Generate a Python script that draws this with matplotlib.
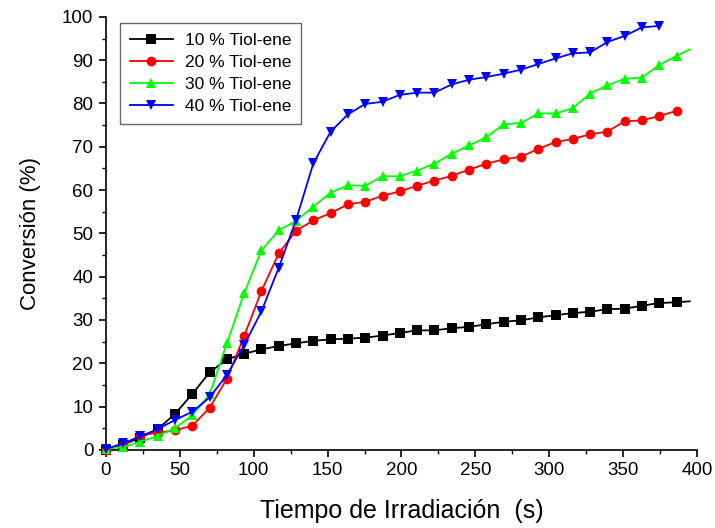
import matplotlib
matplotlib.use("Agg")
import matplotlib.pyplot as plt
from matplotlib.ticker import MultipleLocator

plt.rcParams['font.family'] = ['Liberation Sans', 'DejaVu Sans']

# Irradiation time (s) for each sample
tiempo = [0, 11.7, 23.4, 35.1, 46.8, 58.5, 70.2, 81.9, 93.6, 105.3, 117.0,
          128.7, 140.4, 152.1, 163.8, 175.5, 187.2, 198.9, 210.6, 222.3,
          234.0, 245.7, 257.4, 269.1, 280.8, 292.5, 304.2, 315.9, 327.6,
          339.3, 351.0, 362.7, 374.4, 386.1, 395.0]

# Conversion (%) per thiol-ene content
conv_10 = [0.0, 1.2, 2.8, 4.8, 8.3, 12.9, 17.9, 20.9, 22.2, 23.2, 24.0, 24.6,
           25.2, 25.5, 25.7, 25.9, 26.4, 27.0, 27.6, 27.6, 28.1, 28.4, 29.0,
           29.6, 29.9, 30.6, 31.1, 31.6, 31.9, 32.5, 32.6, 33.3, 33.9, 34.1,
           34.3]
conv_20 = [0.0, 1.2, 3.3, 4.0, 4.5, 5.6, 9.7, 16.4, 26.3, 36.7, 45.4, 50.6,
           53.0, 54.7, 56.7, 57.3, 58.7, 59.7, 61.0, 62.2, 63.3, 64.7, 66.1,
           67.1, 67.7, 69.5, 71.1, 71.8, 72.9, 73.5, 75.9, 76.1, 77.1, 78.3]
conv_30 = [0.3, 0.6, 1.9, 3.2, 5.0, 8.0, 12.8, 24.6, 36.2, 46.1, 50.7, 52.9,
           56.2, 59.4, 61.1, 61.0, 63.2, 63.2, 64.5, 66.1, 68.4, 70.3, 72.2,
           75.2, 75.5, 77.7, 77.7, 78.9, 82.3, 84.2, 85.7, 86.0, 88.9, 91.0,
           92.5]
conv_40 = [0.2, 1.5, 3.1, 4.8, 6.9, 8.8, 12.1, 17.3, 24.2, 32.0, 42.1, 53.1,
           66.2, 73.5, 77.5, 79.9, 80.4, 82.0, 82.5, 82.5, 84.4, 85.5, 86.1,
           86.9, 87.8, 89.1, 90.4, 91.6, 91.8, 94.2, 95.6, 97.6, 97.9]

etiquetas = ['10 % Tiol-ene', '20 % Tiol-ene', '30 % Tiol-ene', '40 % Tiol-ene']

fig = plt.figure(figsize=(7.15, 5.28), dpi=100)
ax = fig.add_axes([0.148, 0.148, 0.827, 0.82])

series = [
    (conv_10, '#000000', 's', 6.5, etiquetas[0]),
    (conv_20, '#FF0000', 'o', 7.0, etiquetas[1]),
    (conv_30, '#00FF00', '^', 7.5, etiquetas[2]),
    (conv_40, '#0000FF', 'v', 7.5, etiquetas[3]),
]
for valores, color, marca, tam, etiqueta in series:
    n = len(valores)
    t = tiempo[:n]
    # markers only on the regular sampling points (not the final line end)
    marcas = list(range(min(n, 34)))
    ax.plot(t, valores, color=color, lw=1.3, marker=marca, markersize=tam,
            markevery=marcas, markeredgewidth=0, label=etiqueta,
            clip_on=False, zorder=3)

ax.set_xlim(0, 400)
ax.set_ylim(0, 100)
ax.xaxis.set_major_locator(MultipleLocator(50))
ax.xaxis.set_minor_locator(MultipleLocator(25))
ax.yaxis.set_major_locator(MultipleLocator(10))
ax.yaxis.set_minor_locator(MultipleLocator(5))

for lado in ('top', 'right'):
    ax.spines[lado].set_visible(False)
for lado in ('left', 'bottom'):
    ax.spines[lado].set_linewidth(1.2)

ax.tick_params(which='major', direction='out', length=5, width=1.2,
               labelsize=13.5, pad=4)
ax.tick_params(which='minor', direction='out', length=3, width=1.0)

ax.set_xlabel('Tiempo de Irradiación  (s)', fontsize=18, labelpad=14)
ax.set_ylabel('Conversión (%)', fontsize=16, labelpad=15)

leg = ax.legend(loc='upper left', bbox_to_anchor=(0.024, 0.985),
                fontsize=12.5, frameon=True, fancybox=False,
                handlelength=2.5, handletextpad=0.7, labelspacing=0.4,
                borderpad=0.55, borderaxespad=0.0)
leg.get_frame().set_edgecolor('#444444')
leg.get_frame().set_linewidth(1.0)

fig.savefig('out.png', dpi=100)
